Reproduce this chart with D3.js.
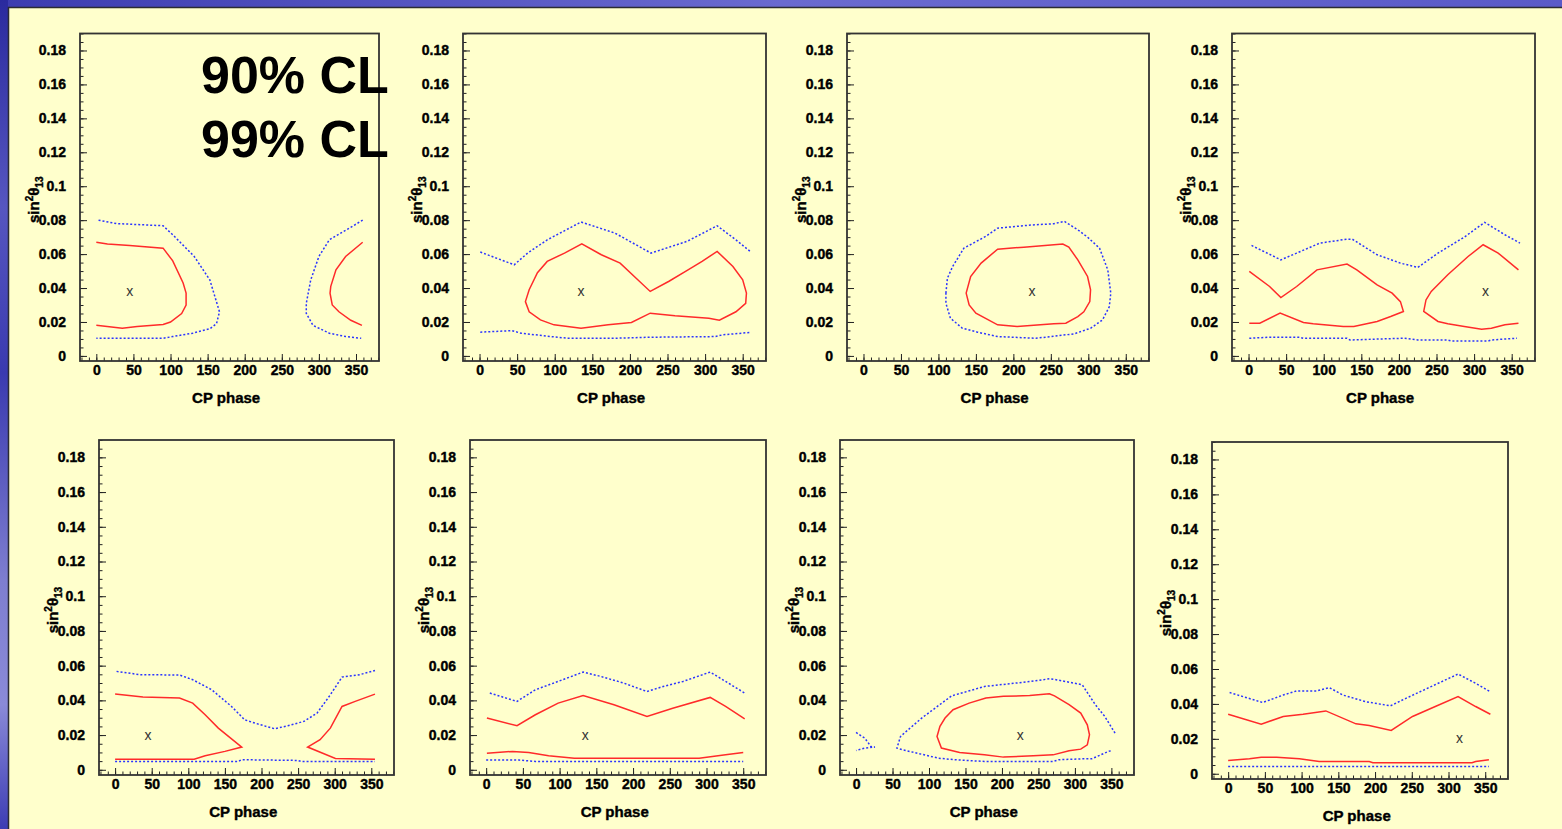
<!DOCTYPE html>
<html>
<head>
<meta charset="utf-8">
<script src="https://cdn.jsdelivr.net/npm/d3@7"></script>
<style>
    body { margin: 0; overflow: hidden; background: #ffffcc; }
    svg text { font-family: "Liberation Sans", Arial, sans-serif; }
    .tick text { font-weight: bold; font-size: 14px; fill: #000; stroke: #000; stroke-width: 0.4; }
    .axis-title { font-weight: bold; font-size: 15px; fill: #000; stroke: #000; stroke-width: 0.4; }
    .cl90 { fill: none; stroke: #ff2a2a; stroke-width: 1.5; }
    .cl99 { fill: none; stroke: #2a34ff; stroke-width: 1.5; stroke-dasharray: 2, 2; }
</style>
</head>
<body>
<div id="chart"></div>
<script>

// axis ticks
var xTicks = [0, 50, 100, 150, 200, 250, 300, 350];
var yTicks = [0, 0.02, 0.04, 0.06, 0.08, 0.1, 0.12, 0.14, 0.16, 0.18];
var xDomain = [-22, 381];
var yDomain = [-0.003, 0.19];

var legendLabels = ["90% CL", "99% CL"];

// best fit points (CP phase, sin^2 theta13), one per panel
var bestFit = [[45, 0.038], [135, 0.038], [225, 0.038], [315, 0.038],
               [45, 0.02], [135, 0.02], [225, 0.02], [315, 0.02]];

// panel 1
var p1Red90Left = [[0, 0.067], [15, 0.066], [45, 0.065], [90, 0.0635], [103, 0.056], [117, 0.043], [121, 0.037],
    [121, 0.030], [115, 0.025], [100, 0.020], [90, 0.0185], [55, 0.0173], [35, 0.0163], [0, 0.018]];
var p1Red90Right = [[359, 0.067], [336, 0.0586], [323, 0.0507], [316, 0.041], [315, 0.037], [318, 0.030],
    [327, 0.026], [343, 0.021], [358, 0.018]];
var p1Blue99Left = [[3, 0.080], [27, 0.078], [90, 0.0767], [103, 0.0714], [132, 0.0586], [153, 0.0448], [166, 0.026],
    [162, 0.019], [153, 0.016], [130, 0.0134], [103, 0.0114], [90, 0.0104], [0, 0.0104]];
var p1Blue99Right = [[359, 0.080], [341, 0.0753], [314, 0.0684], [300, 0.0586], [289, 0.0448], [283, 0.031],
    [283, 0.025], [292, 0.018], [314, 0.0134], [336, 0.0114], [357, 0.0104]];

// panel 2
var p2Red90 = [[61, 0.032], [66, 0.039], [77, 0.049], [90, 0.0557], [113, 0.0606], [136, 0.066], [162, 0.0596],
    [187, 0.0547], [227, 0.038], [252, 0.044], [274, 0.0498], [296, 0.0557], [316, 0.0616], [337, 0.0527],
    [350, 0.0448], [355, 0.037], [354, 0.031], [341, 0.026], [319, 0.021], [305, 0.0222], [260, 0.0236],
    [227, 0.0252], [202, 0.0197], [171, 0.0183], [135, 0.0163], [99, 0.0183], [81, 0.0212], [66, 0.026]];
var p2Blue99Upper = [[1, 0.0612], [46, 0.0537], [64, 0.0606], [90, 0.0684], [135, 0.0789], [180, 0.0724],
    [228, 0.0606], [276, 0.0675], [316, 0.0767], [341, 0.0684], [361, 0.0612]];
var p2Blue99Lower = [[1, 0.014], [43, 0.0149], [55, 0.0134], [95, 0.0114], [117, 0.0104], [180, 0.0104],
    [225, 0.011], [314, 0.0114], [323, 0.0124], [359, 0.0138]];

// panel 3
var p3Red90 = [[137, 0.037], [143, 0.0468], [157, 0.0547], [179, 0.0629], [214, 0.0641], [266, 0.0659],
    [274, 0.0641], [286, 0.0566], [299, 0.0468], [303, 0.039], [302, 0.032], [294, 0.026], [286, 0.0232],
    [270, 0.0193], [254, 0.0189], [205, 0.0173], [179, 0.0183], [150, 0.0252], [141, 0.030]];
var p3Blue99 = [[110, 0.037], [112, 0.0458], [119, 0.0527], [134, 0.0635], [163, 0.0704], [179, 0.0753],
    [223, 0.0771], [254, 0.0779], [268, 0.0793], [286, 0.0743], [299, 0.070], [315, 0.0635], [326, 0.0507],
    [330, 0.037], [328, 0.029], [319, 0.0212], [303, 0.0163], [281, 0.013], [250, 0.0114], [230, 0.0104],
    [179, 0.0114], [152, 0.014], [132, 0.0163], [116, 0.0222], [110, 0.031]];

// panel 4
var p4Red90Left = [[1, 0.0498], [28, 0.0409], [43, 0.0344], [64, 0.0409], [91, 0.0507], [131, 0.0541],
    [144, 0.0507], [171, 0.0419], [191, 0.037], [202, 0.032], [206, 0.0262], [189, 0.0232], [171, 0.0203],
    [140, 0.0173], [126, 0.0173], [86, 0.0189], [73, 0.0197], [42, 0.0252], [15, 0.0193], [1, 0.0193]];
var p4Red90Right = [[359, 0.0507], [332, 0.0606], [312, 0.0655], [292, 0.0586], [265, 0.0478], [243, 0.038],
    [236, 0.033], [233, 0.0262], [252, 0.0203], [265, 0.0189], [287, 0.0173], [310, 0.0157], [323, 0.0163],
    [341, 0.0183], [359, 0.0193]];
var p4Blue99Upper = [[4, 0.0651], [43, 0.0566], [64, 0.0606], [95, 0.0665], [131, 0.0688], [138, 0.0688],
    [171, 0.0596], [202, 0.0547], [225, 0.0521], [252, 0.0606], [287, 0.070], [314, 0.0787], [341, 0.0714],
    [361, 0.0665]];
var p4Blue99Lower = [[1, 0.0104], [28, 0.011], [68, 0.011], [73, 0.0104], [131, 0.0104], [135, 0.0094],
    [207, 0.0104], [225, 0.0094], [265, 0.0094], [270, 0.0088], [319, 0.0088], [323, 0.0094], [357, 0.0104]];

// panel 5
var p5Red90Left = [[0, 0.0436], [38, 0.0419], [88, 0.0413], [106, 0.0384], [123, 0.0317], [141, 0.024],
    [173, 0.0131], [150, 0.0106], [123, 0.0081], [108, 0.0061], [0, 0.0061]];
var p5Red90Right = [[355, 0.0436], [328, 0.0394], [310, 0.0365], [294, 0.024], [280, 0.0173], [263, 0.0131],
    [301, 0.0065], [355, 0.0061]];
var p5Blue99Upper = [[2, 0.0567], [34, 0.0548], [88, 0.0546], [106, 0.0519], [132, 0.0461], [159, 0.0365],
    [177, 0.0288], [191, 0.0269], [218, 0.0236], [236, 0.0254], [258, 0.0279], [276, 0.0327], [294, 0.0432],
    [310, 0.0534], [334, 0.0548], [355, 0.0572]];
var p5Blue99Lower = [[0, 0.0048], [168, 0.0048], [173, 0.0058], [249, 0.0054], [254, 0.0048], [355, 0.0048]];

// panel 6
var p6Red90Upper = [[1, 0.0298], [42, 0.0254], [67, 0.0317], [98, 0.0384], [132, 0.0428], [174, 0.0375],
    [219, 0.0307], [254, 0.0355], [305, 0.0417], [326, 0.0365], [352, 0.0294]];
var p6Red90Lower = [[1, 0.0096], [36, 0.0106], [58, 0.010], [85, 0.0081], [120, 0.0067], [290, 0.0067],
    [326, 0.0086], [350, 0.010]];
var p6Blue99Upper = [[5, 0.0442], [42, 0.0394], [67, 0.0461], [94, 0.0503], [132, 0.0563], [156, 0.0538],
    [187, 0.050], [219, 0.0451], [241, 0.048], [268, 0.0509], [305, 0.0563], [326, 0.0509], [352, 0.0442]];
var p6Blue99Lower = [[0, 0.0056], [45, 0.0056], [67, 0.0048], [350, 0.0048]];

// panel 7
var p7Red90 = [[111, 0.0192], [115, 0.025], [122, 0.0298], [133, 0.0346], [155, 0.0384], [178, 0.0413],
    [202, 0.0423], [238, 0.0428], [265, 0.0438], [272, 0.0426], [292, 0.0375], [308, 0.0327], [317, 0.0259],
    [320, 0.0202], [317, 0.0144], [308, 0.0119], [292, 0.011], [270, 0.0086], [243, 0.0081], [202, 0.0073],
    [176, 0.0086], [142, 0.010], [117, 0.0125]];
var p7Blue99Main = [[355, 0.0211], [341, 0.0307], [328, 0.0375], [310, 0.049], [274, 0.0519], [265, 0.0524],
    [238, 0.0509], [220, 0.050], [176, 0.048], [131, 0.0426], [90, 0.0298], [66, 0.0211], [61, 0.0192],
    [56, 0.0125], [64, 0.0115], [113, 0.0067], [135, 0.0058], [176, 0.0048], [270, 0.0048], [278, 0.0058],
    [310, 0.0063], [323, 0.0063], [346, 0.0106], [350, 0.011]];
var p7Blue99Edge = [[0, 0.0215], [12, 0.0182], [21, 0.0131], [26, 0.0131], [12, 0.0125], [0, 0.0111]];

// panel 8
var p8Red90Upper = [[0, 0.0341], [45, 0.0284], [75, 0.0328], [102, 0.0341], [133, 0.036], [174, 0.0286],
    [192, 0.0276], [222, 0.0248], [251, 0.0328], [282, 0.0385], [313, 0.0442], [337, 0.0385], [357, 0.0341]];
var p8Red90Lower = [[0, 0.0076], [29, 0.0086], [45, 0.0095], [66, 0.0095], [97, 0.0086], [124, 0.007],
    [192, 0.007], [197, 0.0063], [332, 0.0063], [337, 0.007], [355, 0.008]];
var p8Blue99Upper = [[2, 0.0465], [47, 0.0408], [75, 0.0451], [93, 0.0474], [120, 0.0474], [138, 0.0493],
    [156, 0.0451], [187, 0.0413], [221, 0.0389], [242, 0.0432], [291, 0.0528], [313, 0.0571], [337, 0.0518],
    [357, 0.047]];
var p8Blue99Lower = [[0, 0.0042], [355, 0.0042]];


// frame of every plot box on the page
var boxes = [
    {x: 80, y: 33.5, w: 299, h: 327.5}, {x: 463, y: 33.5, w: 303, h: 327.5},
    {x: 847, y: 33.5, w: 302, h: 327.5}, {x: 1232, y: 33.5, w: 303, h: 327.5},
    {x: 99, y: 440, w: 295, h: 335}, {x: 470, y: 440, w: 296, h: 335},
    {x: 840, y: 440, w: 294, h: 335}, {x: 1212, y: 442, w: 296, h: 337}
];

// contours in each panel: [data, class, closed]
var contours = [
    [[p1Blue99Left, "cl99"], [p1Blue99Right, "cl99"], [p1Red90Left, "cl90"], [p1Red90Right, "cl90"]],
    [[p2Blue99Upper, "cl99"], [p2Blue99Lower, "cl99"], [p2Red90, "cl90", true]],
    [[p3Blue99, "cl99", true], [p3Red90, "cl90", true]],
    [[p4Blue99Upper, "cl99"], [p4Blue99Lower, "cl99"], [p4Red90Left, "cl90"], [p4Red90Right, "cl90"]],
    [[p5Blue99Upper, "cl99"], [p5Blue99Lower, "cl99"], [p5Red90Left, "cl90"], [p5Red90Right, "cl90"]],
    [[p6Blue99Upper, "cl99"], [p6Blue99Lower, "cl99"], [p6Red90Upper, "cl90"], [p6Red90Lower, "cl90"]],
    [[p7Blue99Main, "cl99"], [p7Blue99Edge, "cl99"], [p7Red90, "cl90", true]],
    [[p8Blue99Upper, "cl99"], [p8Blue99Lower, "cl99"], [p8Red90Upper, "cl90"], [p8Red90Lower, "cl90"]]
];


var svg = d3.select("#chart")
    .append("svg")
    .attr("width", 1562)
    .attr("height", 829);

// slide background: blue frame on the top and left, cream page
var defs = svg.append("defs");
var sideGrad = defs.append("linearGradient").attr("id", "side-grad")
    .attr("x1", 0).attr("y1", 0).attr("x2", 0).attr("y2", 1);
[["0%", "#2a2a9e"], ["25%", "#5656c0"], ["45%", "#3a3ab0"], ["70%", "#7e7ed0"], ["85%", "#8a8ad8"], ["100%", "#3c3cb4"]]
    .forEach(function (s) { sideGrad.append("stop").attr("offset", s[0]).attr("stop-color", s[1]); });
var topGrad = defs.append("linearGradient").attr("id", "top-grad");
[["0%", "#3c3cb0"], ["50%", "#6a6ad0"], ["100%", "#5a5ac8"]]
    .forEach(function (s) { topGrad.append("stop").attr("offset", s[0]).attr("stop-color", s[1]); });

svg.append("rect").attr("width", 1562).attr("height", 829).attr("fill", "#ffffcc");
svg.append("rect").attr("width", 1562).attr("height", 7).attr("fill", "url(#top-grad)");
svg.append("rect").attr("width", 8).attr("height", 829).attr("fill", "url(#side-grad)");
svg.append("path").attr("d", "M8.5,829V7.5H1562").attr("fill", "none")
    .attr("stroke", "#2b2b33").attr("stroke-width", 1.5);

var yFormat = function (d) { return String(+d.toFixed(2)); };

boxes.forEach(function (box, i) {
    var g = svg.append("g").attr("transform", "translate(" + box.x + "," + box.y + ")");

    var x = d3.scaleLinear().domain(xDomain).range([0, box.w]);
    var y = d3.scaleLinear().domain(yDomain).range([box.h, 0]);

    // minor ticks
    g.append("g")
        .call(d3.axisLeft(y).tickValues(d3.range(0, 0.1901, 0.005)).tickSize(-3.5).tickFormat(""))
        .call(function (a) { a.select(".domain").remove(); })
        .selectAll("line").attr("stroke", "#222");
    g.append("g")
        .attr("transform", "translate(0," + box.h + ")")
        .call(d3.axisBottom(x).tickValues(d3.range(-20, 381, 10)).tickSize(-3.5).tickFormat(""))
        .call(function (a) { a.select(".domain").remove(); })
        .selectAll("line").attr("stroke", "#222");

    // major ticks with labels
    g.append("g")
        .call(d3.axisLeft(y).tickValues(yTicks).tickSizeInner(-7).tickSizeOuter(0)
            .tickPadding(14).tickFormat(yFormat))
        .call(function (a) { a.select(".domain").remove(); })
        .selectAll("line").attr("stroke", "#222");
    g.append("g")
        .attr("transform", "translate(0," + box.h + ")")
        .call(d3.axisBottom(x).tickValues(xTicks).tickSizeInner(-7).tickSizeOuter(0).tickPadding(4))
        .call(function (a) { a.select(".domain").remove(); })
        .selectAll("line").attr("stroke", "#222");

    // contours
    contours[i].forEach(function (c) {
        var line = d3.line()
            .x(function (d) { return x(d[0]); })
            .y(function (d) { return y(d[1]); })
            .curve(c[2] ? d3.curveLinearClosed : d3.curveLinear);
        g.append("path").datum(c[0]).attr("class", c[1]).attr("d", line);
    });

    // best fit marker
    g.append("text")
        .attr("x", x(bestFit[i][0]))
        .attr("y", y(bestFit[i][1]))
        .attr("dy", "0.32em")
        .attr("text-anchor", "middle")
        .attr("font-size", 14)
        .attr("fill", "#333")
        .text("x");

    // plot frame
    g.append("rect")
        .attr("width", box.w).attr("height", box.h)
        .attr("fill", "none").attr("stroke", "#333").attr("stroke-width", 1.8);

    // axis titles
    g.append("text")
        .attr("class", "axis-title")
        .attr("x", x(175))
        .attr("y", box.h + 42)
        .attr("text-anchor", "middle")
        .text("CP phase");

    var yt = g.append("text")
        .attr("class", "axis-title")
        .attr("text-anchor", "middle")
        .attr("transform", "translate(-41," + y(0.092) + ") rotate(-90)");
    yt.append("tspan").text("sin");
    yt.append("tspan").attr("font-size", 10).attr("dy", -6).text("2");
    yt.append("tspan").attr("dy", 6).text("θ");
    yt.append("tspan").attr("font-size", 10).attr("dy", 4).text("13");
});

// confidence level labels
svg.selectAll(".cl-label")
    .data(legendLabels)
    .enter()
    .append("text")
    .attr("class", "cl-label")
    .attr("x", 201)
    .attr("y", function (d, i) { return 93 + i * 64; })
    .attr("font-size", 52)
    .attr("font-weight", "bold")
    .attr("fill", "#000")
    .text(function (d) { return d; });

</script>
</body>
</html>
